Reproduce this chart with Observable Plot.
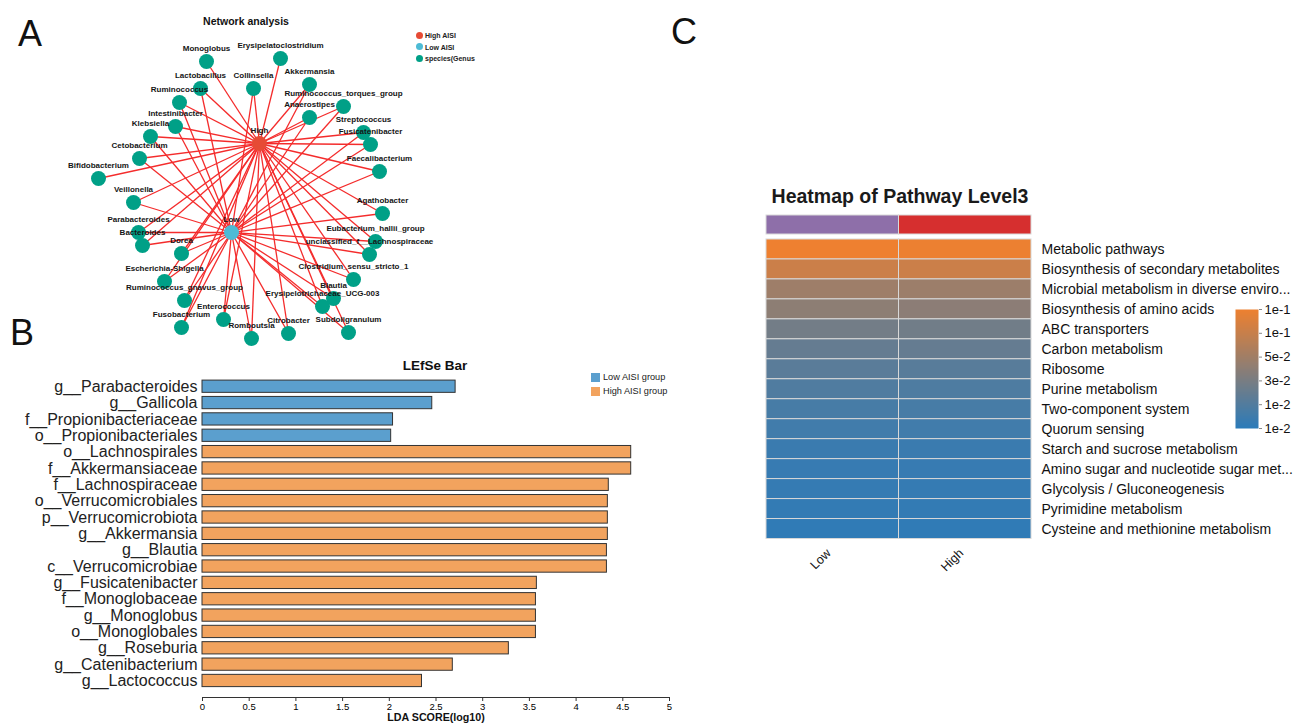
<!DOCTYPE html>
<html><head><meta charset="utf-8">
<script src="https://cdn.jsdelivr.net/npm/d3@7"></script>
<script src="https://cdn.jsdelivr.net/npm/@observablehq/plot@0.6"></script>
<style>
body{margin:0;background:#fff;font-family:"Liberation Sans",Arial,sans-serif;}
#root{position:relative;width:1293px;height:723px;overflow:hidden;background:#fff;}
.abs{position:absolute;}
.abs svg{overflow:visible;background:transparent;font-family:"Liberation Sans",Arial,sans-serif;}
.t{position:absolute;white-space:nowrap;line-height:1;color:#111;}
</style></head><body><div id="root"></div>
<script>
// ---------- Panel A: network ----------
const hubNames = ["High", "Low"];
const hubX = [259, 231];
const hubY = [143, 232];
const genusNames = ["Monoglobus","Erysipelatoclostridium","Lactobacillus","Collinsella","Akkermansia","Ruminococcus",
  "Ruminococcus_torques_group","Anaerostipes","Intestinibacter","Klebsiella","Streptococcus","Fusicatenibacter",
  "Cetobacterium","Faecalibacterium","Bifidobacterium","Veillonella","Agathobacter","Parabacteroides",
  "Eubacterium_hallii_group","Bacteroides","Dorea","unclassified_f__Lachnospiraceae","Clostridium_sensu_stricto_1",
  "Escherichia-Shigella","Blautia","Ruminococcus_gnavus_group","Erysipelotrichaceae_UCG-003","Enterococcus",
  "Fusobacterium","Subdoligranulum","Citrobacter","Romboutsia"];
const genusX = [206,280,200,253,309,179,343,309,175,150,363,370,139,379,98,133,382,138,375,142,181,369,353,164,333,184,322,223,181,348,288,251];
const genusY = [61,58,88,88,84,102,106,117,126,136,132,144,158,171,178,202,213,232,241,245,253,254,279,281,298,300,306,319,327,332,333,338];
const genusLinks = ["High","High","both","both","both","both","both","both","both","both","both","both",
  "both","both","High","both","both","both","both","both","both","both","both","both","both","both","both","both",
  "both","both","both","both"];
const nodeKinds = ["High", "Low", "genus"];
const nodeColors = ["#e64b35", "#4dbbd5", "#00a087"];
const netLegend = ["High AISI", "Low AISI", "species(Genus"];

// ---------- Panel B: LEfSe ----------
const lefseNames = ["g__Parabacteroides","g__Gallicola","f__Propionibacteriaceae","o__Propionibacteriales",
  "o__Lachnospirales","f__Akkermansiaceae","f__Lachnospiraceae","o__Verrucomicrobiales","p__Verrucomicrobiota",
  "g__Akkermansia","g__Blautia","c__Verrucomicrobiae","g__Fusicatenibacter","f__Monoglobaceae","g__Monoglobus",
  "o__Monoglobales","g__Roseburia","g__Catenibacterium","g__Lactococcus"];
const lefseScores = [2.71,2.46,2.04,2.02,4.59,4.59,4.35,4.34,4.34,4.34,4.33,4.33,3.58,3.57,3.57,3.57,3.28,2.68,2.35];
const lefseGroups = ["Low AISI group","Low AISI group","Low AISI group","Low AISI group",
  "High AISI group","High AISI group","High AISI group","High AISI group","High AISI group","High AISI group",
  "High AISI group","High AISI group","High AISI group","High AISI group","High AISI group","High AISI group",
  "High AISI group","High AISI group","High AISI group"];
const lefseGroupNames = ["Low AISI group", "High AISI group"];
const lefseColors = ["#5b9fce", "#f2a35e"];
const lefseTicks = [0,0.5,1,1.5,2,2.5,3,3.5,4,4.5,5];

// ---------- Panel C: heatmap ----------
const pathways = ["Metabolic pathways","Biosynthesis of secondary metabolites","Microbial metabolism in diverse enviro...",
  "Biosynthesis of amino acids","ABC transporters","Carbon metabolism","Ribosome","Purine metabolism",
  "Two-component system","Quorum sensing","Starch and sucrose metabolism","Amino sugar and nucleotide sugar met...",
  "Glycolysis / Gluconeogenesis","Pyrimidine metabolism","Cysteine and methionine metabolism"];
const heatGroups = ["Low", "High"];
const heatGroupColors = ["#8e6fa9", "#d62f2f"];
const heatLow  = [0.125,0.104,0.077,0.067,0.051,0.043,0.036,0.030,0.025,0.021,0.017,0.015,0.014,0.013,0.011];
const heatHigh = [0.124,0.104,0.076,0.066,0.050,0.043,0.035,0.029,0.025,0.021,0.017,0.015,0.014,0.013,0.011];
const heatDomain = [0.008, 0.125];
const heatRange = ["#2b7bba", "#ee8030"];
const legendLabels = ["1e-1","1e-1","5e-2","3e-2","1e-2","1e-2"];

// ---------- helpers ----------
const root = document.getElementById("root");
function place(node, left, top) {
  const d = document.createElement("div");
  d.className = "abs"; d.style.left = left + "px"; d.style.top = top + "px";
  d.appendChild(node); root.appendChild(d); return d;
}
function txt(s, x, y, css, anchor) {
  const d = document.createElement("div");
  d.className = "t"; d.textContent = s;
  d.style.left = x + "px"; d.style.top = y + "px";
  d.style.transform = anchor === "left" ? "translate(0,-50%)" : "translate(-50%,-50%)";
  Object.assign(d.style, css || {});
  root.appendChild(d); return d;
}
function swatch(x, y, w, h, color, round) {
  const d = document.createElement("div");
  Object.assign(d.style, {position:"absolute", left:(x - w/2)+"px", top:(y - h/2)+"px", width:w+"px", height:h+"px",
    background:color, borderRadius: round ? "50%" : "0"});
  root.appendChild(d);
}
const transparent = {background: "transparent", overflow: "visible"};

// ---------- Panel A plot ----------
const genusNodes = genusNames.map((name, i) => ({name, x: genusX[i], y: genusY[i], kind: "genus"}));
const hubNodes = hubNames.map((name, i) => ({name, x: hubX[i], y: hubY[i], kind: name}));
const edges = [];
genusNames.forEach((g, i) => {
  hubNames.forEach((h, j) => {
    if (genusLinks[i] === "both" || genusLinks[i] === h)
      edges.push({x1: genusX[i], y1: genusY[i], x2: hubX[j], y2: hubY[j]});
  });
});
const allNodes = [...genusNodes, ...hubNodes];
const netPlot = Plot.plot({
  width: 490, height: 350, margin: 0,
  x: {domain: [0, 490], range: [0, 490], axis: null},
  y: {domain: [0, 350], range: [0, 350], axis: null},
  color: {domain: nodeKinds, range: nodeColors},
  style: transparent,
  marks: [
    Plot.link(edges, {x1: "x1", y1: "y1", x2: "x2", y2: "y2", stroke: "#f42c2c", strokeWidth: 1.3}),
    Plot.dot(allNodes, {x: "x", y: "y", r: 7.5, fill: "kind", stroke: null}),
    Plot.text(allNodes, {x: "x", y: "y", text: "name", dy: -13, fontSize: 8, fontWeight: "bold", fill: "#151515"})
  ]
});
place(netPlot, 0, 0);
txt("Network analysis", 246, 21, {fontSize: "10.5px", fontWeight: "bold"});
netLegend.forEach((s, i) => {
  swatch(419, 35 + i * 11.5, 7, 7, nodeColors[i], true);
  txt(s, 425, 35 + i * 11.5, {fontSize: "7px", fontWeight: "bold", color: "#222"}, "left");
});

// ---------- Panel B plot ----------
const lefse = lefseNames.map((name, i) => ({name, score: lefseScores[i], group: lefseGroups[i]}));
const lefsePlot = Plot.plot({
  width: 690, height: 373, marginLeft: 202, marginRight: 21, marginTop: 0, marginBottom: 26,
  x: {domain: [0, 5]},
  y: {domain: lefseNames, range: [26, 340.7], paddingInner: 0.25, paddingOuter: 0.25, round: false},
  color: {domain: lefseGroupNames, range: lefseColors},
  style: transparent,
  marks: [
    Plot.barX(lefse, {x: "score", y: "name", fill: "group", stroke: "#333", strokeWidth: 1}),
    Plot.frame({anchor: "bottom", stroke: "#333"}),
    Plot.axisX({ticks: lefseTicks, tickFormat: d => `${d}`, tickSize: 4, tickPadding: 2, fontSize: 9.5, label: null, stroke: "#333"}),
    Plot.axisY({tickSize: 0, tickPadding: 5, fontSize: 16, label: null, fill: "#222"})
  ]
});
place(lefsePlot, 0, 350);
txt("LEfSe Bar", 435, 366, {fontSize: "13.5px", fontWeight: "bold"});
lefseGroupNames.forEach((s, i) => {
  swatch(595, 377.5 + i * 14, 9, 9, lefseColors[i], false);
  txt(s, 603, 377.5 + i * 14, {fontSize: "9.2px", color: "#222"}, "left");
});
txt("LDA SCORE(log10)", 436, 717, {fontSize: "10.7px", fontWeight: "bold"});

// ---------- Panel C plots ----------
const heat = pathways.flatMap((p, i) => [
  {pathway: p, group: "Low", value: heatLow[i]},
  {pathway: p, group: "High", value: heatHigh[i]}
]);
const colorOpts = {type: "linear", domain: heatDomain, range: heatRange, interpolate: "rgb"};
const barPlot = Plot.plot({
  width: 480, height: 30, marginLeft: 10, marginRight: 205, marginTop: 5, marginBottom: 6,
  x: {domain: heatGroups, padding: 0, axis: null, round: false},
  color: {domain: heatGroups, range: heatGroupColors},
  style: transparent,
  marks: [Plot.cell(heatGroups, {x: d => d, fill: d => d, stroke: "#dadada", strokeWidth: 1})]
});
place(barPlot, 756, 210);
const heatPlot = Plot.plot({
  width: 480, height: 385, marginLeft: 10, marginRight: 205, marginTop: 39, marginBottom: 46.5,
  x: {domain: heatGroups, padding: 0, round: false},
  y: {domain: pathways, padding: 0, round: false},
  color: colorOpts,
  style: transparent,
  marks: [
    Plot.cell(heat, {x: "group", y: "pathway", fill: "value", stroke: "#d8d8d8", strokeWidth: 1}),
    Plot.axisY({anchor: "right", tickSize: 0, tickPadding: 10, fontSize: 14, label: null, fill: "#111"}),
    Plot.axisX({tickRotate: -45, tickSize: 0, tickPadding: 12, dx: -4, fontSize: 12.5, label: null, fill: "#111"})
  ]
});
place(heatPlot, 756, 200);
txt("Heatmap of Pathway Level3", 900, 197, {fontSize: "19.5px", fontWeight: "bold", color: "#1a1a1a"});

const legendTickValues = legendLabels.map((_, i) => heatDomain[1] - i * (heatDomain[1] - heatDomain[0]) / (legendLabels.length - 1));
const cbPlot = Plot.plot({
  width: 68, height: 140, marginLeft: 10, marginRight: 35, marginTop: 9, marginBottom: 12,
  x: {domain: [0, 1], axis: null},
  y: {domain: heatDomain},
  color: colorOpts,
  style: transparent,
  marks: [
    Plot.raster({x1: 0, x2: 1, y1: heatDomain[0], y2: heatDomain[1], width: 1, height: 120, fill: (x, y) => y}),
    Plot.axisY({anchor: "right", ticks: legendTickValues, tickFormat: d => legendLabels[legendTickValues.indexOf(d)],
      tickSize: 3, tickPadding: 3, fontSize: 13, label: null, fill: "#111", stroke: "#888"})
  ]
});
place(cbPlot, 1225, 300);

// panel letters
txt("A", 30, 34, {fontSize: "36px", color: "#111"});
txt("B", 22, 333, {fontSize: "36px", color: "#111"});
txt("C", 684, 32, {fontSize: "36px", color: "#111"});
</script></body></html>
